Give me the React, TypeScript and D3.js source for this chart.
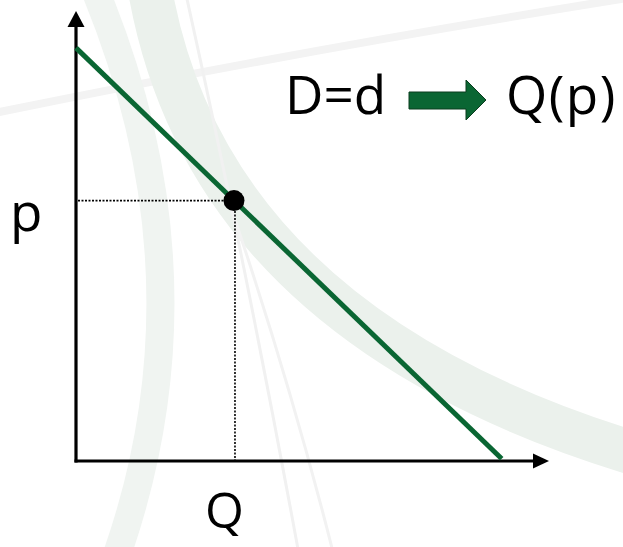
import React, { useEffect, useRef } from "react";
import * as d3 from "d3";

// demand curve endpoints (quantity, price) in axis units
const demandQ = [0, 90];
const demandP = [92, 0.5];
// highlighted point on the curve
const pointQ = [33.4];
const pointP = [58];
// labels
const axisLabels = ["p", "Q"];
const headline = ["D=d", "Q(p)"];

const W = 623;
const H = 547;

const App = () => {
  const svgRef = useRef<SVGSVGElement>(null);

  useEffect(() => {
    const svg = d3.select(svgRef.current);
    svg.selectAll("*").remove();

    const x = d3.scaleLinear().domain([0, 100]).range([76, 549]);
    const y = d3.scaleLinear().domain([0, 100]).range([461, 12]);
    const green = "#0a6633";
    const font = "'Open Sans', 'Noto Sans', sans-serif";

    // faint watermark swooshes in the background
    const bg = svg.append("g").attr("fill", "none").attr("stroke-linecap", "round");
    bg.append("path").attr("d", "M -10,114 Q 300,50 640,-4").attr("stroke", "#f3f3f3").attr("stroke-width", 8);
    bg.append("path").attr("d", "M 95,-10 Q 215,280 115,560").attr("stroke", "#f0f4f1").attr("stroke-width", 28);
    bg.append("path").attr("d", "M 150,-10 Q 210,330 650,458").attr("stroke", "#ebf1ec").attr("stroke-width", 44);
    bg.append("path").attr("d", "M 185,-10 Q 245,260 300,560").attr("stroke", "#f1f1f1").attr("stroke-width", 3);
    bg.append("path").attr("d", "M 225,190 Q 290,380 335,560").attr("stroke", "#f2f2f2").attr("stroke-width", 3);

    // dotted guides
    const pq = pointQ[0];
    const pp = pointP[0];
    svg.append("line")
      .attr("x1", x(0) + 2).attr("x2", x(pq))
      .attr("y1", y(pp)).attr("y2", y(pp))
      .attr("stroke", "#000").attr("stroke-width", 1.6).attr("stroke-dasharray", "2,1.5");
    svg.append("line")
      .attr("x1", x(pq) + 1).attr("x2", x(pq) + 1)
      .attr("y1", y(pp)).attr("y2", y(0))
      .attr("stroke", "#000").attr("stroke-width", 1.6).attr("stroke-dasharray", "2,1.5");

    // axes with arrow heads
    svg.append("line")
      .attr("x1", x(0)).attr("x2", x(0))
      .attr("y1", y(0) + 1.5).attr("y2", y(100) + 14)
      .attr("stroke", "#000").attr("stroke-width", 3.2);
    svg.append("path")
      .attr("d", `M ${x(0)},${y(100) - 1} L ${x(0) - 8.5},${y(100) + 15} L ${x(0) + 8.5},${y(100) + 15} Z`)
      .attr("fill", "#000");
    svg.append("line")
      .attr("x1", x(0) - 1.5).attr("x2", x(100) - 14)
      .attr("y1", y(0)).attr("y2", y(0))
      .attr("stroke", "#000").attr("stroke-width", 3.2);
    svg.append("path")
      .attr("d", `M ${x(100)},${y(0)} L ${x(100) - 16},${y(0) - 7.5} L ${x(100) - 16},${y(0) + 7.5} Z`)
      .attr("fill", "#000");

    // demand line
    const line = d3.line<number>().x((d, i) => x(demandQ[i])).y((d) => y(d));
    svg.append("path")
      .attr("d", line(demandP))
      .attr("fill", "none")
      .attr("stroke", green)
      .attr("stroke-width", 5);

    // point
    svg.append("circle")
      .attr("cx", x(pq)).attr("cy", y(pp)).attr("r", 10.5)
      .attr("fill", "#000");

    // axis labels
    svg.append("text")
      .attr("x", 10).attr("y", 231)
      .attr("font-family", font).attr("font-size", 53).attr("fill", "#000")
      .text(axisLabels[0]);
    svg.append("text")
      .attr("x", 205).attr("y", 528)
      .attr("font-family", font).attr("font-size", 50).attr("fill", "#000")
      .text(axisLabels[1]);

    // headline: D=d -> Q(p)
    svg.append("text")
      .attr("x", 285).attr("y", 114)
      .attr("font-family", font).attr("font-size", 53).attr("fill", "#000")
      .text(headline[0]);
    svg.append("path")
      .attr("d", "M 409,92 L 466,92 L 466,80 L 486,100 L 466,120 L 466,109 L 409,109 Z")
      .attr("fill", green).attr("stroke", "#0b3d1f").attr("stroke-width", 1);
    svg.append("text")
      .attr("x", 506).attr("y", 114)
      .attr("font-family", font).attr("font-size", 53).attr("fill", "#000")
      .attr("letter-spacing", 1.5)
      .text(headline[1]);
  }, []);

  return (
    <svg
      ref={svgRef}
      width={W}
      height={H}
      style={{ position: "absolute", left: 0, top: 0, background: "white", display: "block" }}
    />
  );
};

export default App;
